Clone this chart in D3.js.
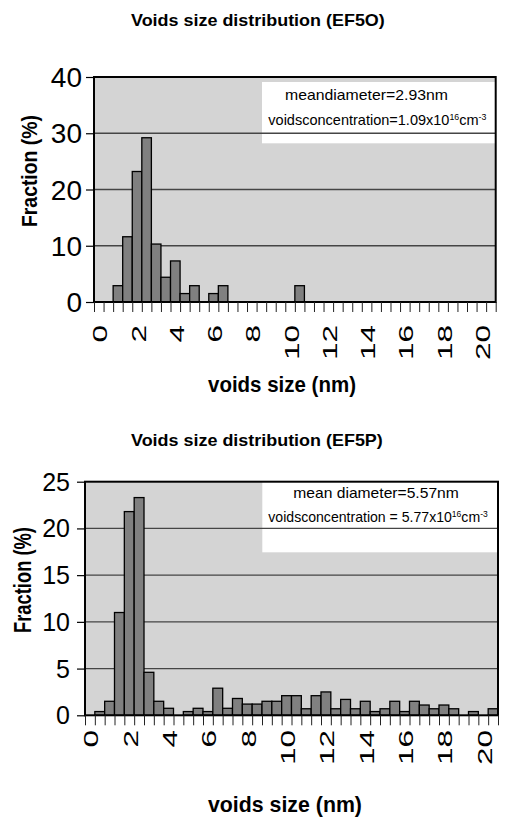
<!DOCTYPE html>
<html><head><meta charset="utf-8">
<script src="https://cdn.jsdelivr.net/npm/d3@7"></script>
<style>body{margin:0;background:#fff} svg{display:block}</style>
</head><body>
<svg id="c" width="505" height="821"></svg>
<script>
// ---------- data ----------
const categories = [0,0.5,1,1.5,2,2.5,3,3.5,4,4.5,5,5.5,6,6.5,7,7.5,8,8.5,9,9.5,10,10.5,11,11.5,12,12.5,13,13.5,14,14.5,15,15.5,16,16.5,17,17.5,18,18.5,19,19.5,20,20.5];
const xTickLabels = ["0","2","4","6","8","10","12","14","16","18","20"];
const fractionEF5O = [0,0,2.9,11.6,23.2,29.2,10.3,4.4,7.3,1.5,2.9,0,1.5,2.9,0,0,0,0,0,0,0,2.9,0,0,0,0,0,0,0,0,0,0,0,0,0,0,0,0,0,0,0,0];
const fractionEF5P = [0,0.4,1.5,11.0,21.8,23.3,4.6,1.5,0.75,0,0.4,0.75,0.4,2.9,0.75,1.8,1.2,1.2,1.5,1.5,2.1,2.1,0.7,2.1,2.5,0.7,1.7,0.7,1.5,0.4,0.7,1.5,0.4,1.5,1.1,0.7,1.1,0.7,0,0.4,0,0.7];
const yTicksEF5O = [0,10,20,30,40];
const yTicksEF5P = [0,5,10,15,20,25];
const chartTitles = ["Voids size distribution (EF5O)","Voids size distribution (EF5P)"];
const meanLines = ["meandiameter=2.93nm","mean diameter=5.57nm"];
const concPrefix = ["voidsconcentration=1.09x10","voidsconcentration = 5.77x10"];
const xAxisTitle = "voids size (nm)";
const yAxisTitle = "Fraction (%)";

// ---------- layout ----------
const FONT = "Arial, 'Liberation Sans', Helvetica, sans-serif";
const svg = d3.select("#c");

const layouts = [
  {values: fractionEF5O, yTicks: yTicksEF5O, yMax: 40, title: chartTitles[0], mean: meanLines[0], conc: concPrefix[0],
   left: 94, right: 495.7, top: 77, bottom: 302,
   titleX: [131,385], titleY: 26,
   xTitleX: [208,356], xTitleY: 392,
   yTitleX: 37, yTitleY: [115,227], yTitleSize: 23,
   yTickSize: 28, yTickPad: 4,
   xLabTop: 325,
   box: [262, 82, 495.7, 143.3],
   l1: [285,448,100], l2: [268.3,487,125]},
  {values: fractionEF5P, yTicks: yTicksEF5P, yMax: 25, title: chartTitles[1], mean: meanLines[1], conc: concPrefix[1],
   left: 85, right: 498, top: 481.7, bottom: 715.3,
   titleX: [131,383], titleY: 446,
   xTitleX: [208,362], xTitleY: 812,
   yTitleX: 31, yTitleY: [527,633], yTitleSize: 23,
   yTickSize: 25, yTickPad: 7,
   xLabTop: 730,
   box: [262.3, 481.7, 498, 552.3],
   l1: [293.3,459,498.3], l2: [268.3,488.3,521.7]}
];

function fitH(t, x0, x1, y) {
  const w = t.node().getBBox().width;
  t.attr("transform", `translate(${x0},${y}) scale(${(x1-x0)/w},1)`);
}

layouts.forEach(L => {
  const g = svg.append("g");
  const x = d3.scaleBand().domain(categories).range([L.left, L.right]).padding(0);
  const xEdge = d3.scaleLinear().domain([0, categories.length]).range([L.left, L.right]);
  const y = d3.scaleLinear().domain([0, L.yMax]).range([L.bottom, L.top]);

  g.append("rect").attr("x", L.left).attr("y", L.top)
    .attr("width", L.right - L.left).attr("height", L.bottom - L.top).attr("fill", "#d4d4d4");
  g.append("rect").attr("x", L.box[0]).attr("y", L.box[1])
    .attr("width", L.box[2]-L.box[0]).attr("height", L.box[3]-L.box[1]).attr("fill", "#fff");
  g.selectAll("line.grid").data(L.yTicks.filter(v => v > 0 && v < L.yMax)).join("line")
    .attr("class","grid").attr("x1", L.left).attr("x2", L.right)
    .attr("y1", d => y(d)).attr("y2", d => y(d))
    .attr("stroke", "#454545").attr("stroke-width", 1.3);

  g.selectAll("rect.bar").data(categories.map((c,i) => ({c, v: L.values[i]})).filter(d => d.v > 0)).join("rect")
    .attr("class","bar")
    .attr("x", d => x(d.c)).attr("width", x.bandwidth())
    .attr("y", d => y(d.v)).attr("height", d => y(0) - y(d.v))
    .attr("fill", "#808080").attr("stroke", "#000").attr("stroke-width", 1.3);

  g.append("rect").attr("x", L.left).attr("y", L.top)
    .attr("width", L.right - L.left).attr("height", L.bottom - L.top)
    .attr("fill", "none").attr("stroke", "#000").attr("stroke-width", 2);

  const ya = g.append("g").attr("transform", `translate(${L.left},0)`)
    .call(d3.axisLeft(y).tickValues(L.yTicks).tickSize(8).tickPadding(L.yTickPad).tickFormat(d3.format("d")));
  ya.select(".domain").remove();
  ya.selectAll(".tick line").attr("stroke", "#000").attr("stroke-width", 1.2);
  ya.selectAll(".tick text").attr("font-family", FONT).attr("font-size", L.yTickSize).attr("fill", "#000").attr("dy", "0.34em");

  const xa = g.append("g").attr("transform", `translate(0,${L.bottom})`)
    .call(d3.axisBottom(xEdge).tickValues(d3.range(categories.length + 1)).tickSize(10).tickFormat(""));
  xa.select(".domain").remove();
  xa.selectAll(".tick line").attr("stroke", "#222").attr("stroke-width", 1);

  const labCats = categories.filter((c) => xTickLabels.includes(String(c)));
  g.selectAll("text.xl").data(labCats).join("text")
    .attr("class","xl")
    .attr("transform", d => `translate(${x(d) + x.bandwidth()/2 + 1},${L.xLabTop}) rotate(-90) scale(1.5,1)`)
    .attr("text-anchor", "end").attr("dy", "0.36em")
    .attr("font-family", FONT).attr("font-size", 21).attr("fill", "#000")
    .text(d => String(d));

  const t = g.append("text").attr("font-family", FONT).attr("font-weight", "bold").attr("font-size", 17).text(L.title);
  fitH(t, L.titleX[0], L.titleX[1], L.titleY);

  const xt = g.append("text").attr("font-family", FONT).attr("font-weight", "bold").attr("font-size", 22).text(xAxisTitle);
  fitH(xt, L.xTitleX[0], L.xTitleX[1], L.xTitleY);

  const yt = g.append("text").attr("font-family", FONT).attr("font-weight", "bold").attr("font-size", L.yTitleSize).text(yAxisTitle);
  const yw = yt.node().getBBox().width;
  yt.attr("transform", `translate(${L.yTitleX},${L.yTitleY[1]}) rotate(-90) scale(${(L.yTitleY[1]-L.yTitleY[0])/yw},1)`);

  const m = g.append("text").attr("font-family", FONT).attr("font-size", 14).text(L.mean);
  fitH(m, L.l1[0], L.l1[1], L.l1[2]);
  const c = g.append("text").attr("font-family", FONT).attr("font-size", 14);
  c.append("tspan").text(L.conc);
  c.append("tspan").attr("font-size", 8.5).attr("dy", -5).text("16");
  c.append("tspan").attr("dy", 5).text("cm");
  c.append("tspan").attr("font-size", 8.5).attr("dy", -5).text("-3");
  fitH(c, L.l2[0], L.l2[1], L.l2[2]);
});
</script>
</body></html>
